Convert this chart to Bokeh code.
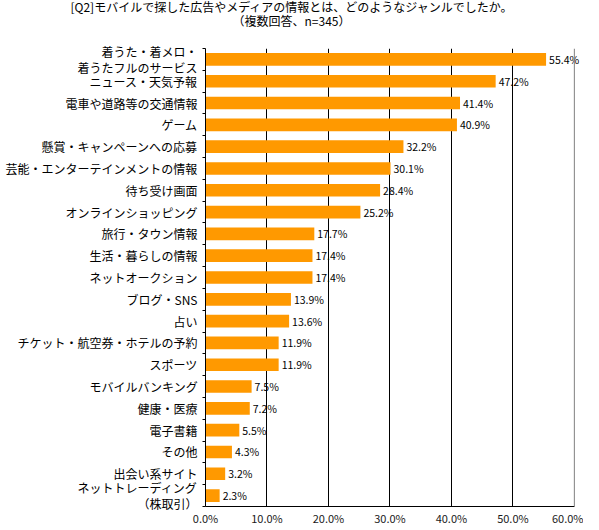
import numpy as np
from bokeh.plotting import figure
from bokeh.layouts import column
from bokeh.models import (ColumnDataSource, FixedTicker, LabelSet, Range1d, Span, Div)
from bokeh.core.properties import value
from bokeh.embed import file_html
from bokeh.resources import INLINE

title_line1 = "[Q2]モバイルで探した広告やメディアの情報とは、どのようなジャンルでしたか。"
title_line2 = "（複数回答、n=345）"

categories = [
    "着うた・着メロ・\n着うたフルのサービス",
    "ニュース・天気予報",
    "電車や道路等の交通情報",
    "ゲーム",
    "懸賞・キャンペーンへの応募",
    "芸能・エンターテインメントの情報",
    "待ち受け画面",
    "オンラインショッピング",
    "旅行・タウン情報",
    "生活・暮らしの情報",
    "ネットオークション",
    "ブログ・SNS",
    "占い",
    "チケット・航空券・ホテルの予約",
    "スポーツ",
    "モバイルバンキング",
    "健康・医療",
    "電子書籍",
    "その他",
    "出会い系サイト",
    "ネットトレーディング\n（株取引）",
]
values = [55.4, 47.2, 41.4, 40.9, 32.2, 30.1, 28.4, 25.2, 17.7, 17.4, 17.4,
          13.9, 13.6, 11.9, 11.9, 7.5, 7.2, 5.5, 4.3, 3.2, 2.3]
x_ticks = [0, 10, 20, 30, 40, 50, 60]
x_tick_labels = ["0.0%", "10.0%", "20.0%", "30.0%", "40.0%", "50.0%", "60.0%"]

n = len(categories)
x_max = x_ticks[-1]
ypos = [n - i - 0.5 for i in range(n)]
source = ColumnDataSource(dict(
    y=ypos, v=values, cat=categories,
    lbl=[f"{v:.1f}%" for v in values],
))

FONT = "Noto Sans CJK JP"
TOTAL_W = 583
TITLE_H = 39

# ---------- title ----------
title = Div(
    text=(f'<div style="width:{TOTAL_W}px;height:{TITLE_H}px;font-family:\'{FONT}\';'
          f'font-size:12px;text-align:center;color:#000;white-space:nowrap;">'
          f'<div style="line-height:13px;height:13px;">{title_line1}</div>'
          f'<div style="line-height:15px;height:15px;">{title_line2}</div></div>'),
    width=TOTAL_W, height=TITLE_H, margin=0,
)

# ---------- bar chart ----------
FRAME_W, FRAME_H = 375, 458
p = figure(frame_width=FRAME_W, frame_height=FRAME_H,
           output_backend="svg", toolbar_location=None,
           x_range=Range1d(0, 61), y_range=Range1d(0, n),
           min_border_left=205, min_border_right=TOTAL_W - 205 - FRAME_W,
           min_border_top=9, min_border_bottom=15, margin=0)
p.background_fill_color = "white"
p.border_fill_color = "white"
p.outline_line_color = None

p.hbar(y="y", right="v", left=0, height=0.58, source=source,
       fill_color="#FF9900", line_color=None)

labels = LabelSet(x="v", y="y", text="lbl", source=source, x_offset=3,
                  text_baseline="middle", text_font_size=value("10.5px"),
                  text_font=value(FONT), text_color="black")
p.add_layout(labels)

# x axis
p.xaxis.ticker = FixedTicker(ticks=x_ticks)
p.xaxis.bounds = (0, x_max)
p.xaxis.major_label_overrides = {t: l for t, l in zip(x_ticks, x_tick_labels)}
p.xaxis.major_tick_line_color = None
p.xaxis.major_tick_out = 0
p.xaxis.major_tick_in = 0
p.xaxis.minor_tick_line_color = None
p.xaxis.major_label_text_font = FONT
p.xaxis.major_label_text_font_size = "11px"
p.xaxis.major_label_text_color = "#1a1a1a"
p.xaxis.major_label_standoff = 3
p.xaxis.axis_line_color = "black"

# y axis: labels at bar centres, ticks at category boundaries
p.yaxis.ticker = FixedTicker(ticks=ypos, minor_ticks=list(range(0, n + 1)))
p.yaxis.major_label_overrides = {y: c for y, c in zip(ypos, categories)}
p.yaxis.major_tick_line_color = None
p.yaxis.major_tick_out = 3
p.yaxis.major_tick_in = 0
p.yaxis.minor_tick_line_color = "black"
p.yaxis.minor_tick_out = 3
p.yaxis.minor_tick_in = 0
p.yaxis.major_label_text_font = FONT
p.yaxis.major_label_text_font_size = "12px"
p.yaxis.major_label_text_line_height = 0.9
p.yaxis.major_label_text_color = "black"
p.yaxis.major_label_standoff = 5
p.yaxis.axis_line_color = "black"

# grid: black lines inside, grey border on top and right
p.xgrid.ticker = FixedTicker(ticks=x_ticks[1:-1])
p.xgrid.grid_line_color = "black"
p.xgrid.grid_line_width = 1
p.ygrid.ticker = FixedTicker(ticks=[n])
p.ygrid.bounds = (0, x_max)
p.ygrid.grid_line_color = "#808080"
p.add_layout(Span(location=x_max, dimension="height", line_color="#808080",
                  line_width=1))

open("out.html", "w").write(file_html(column(title, p, spacing=0), INLINE))
